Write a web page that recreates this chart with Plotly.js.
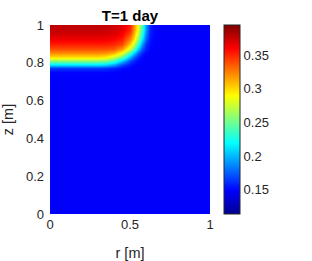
<!DOCTYPE html>
<html><head><meta charset="utf-8">
<script src="https://cdn.plot.ly/plotly-3.0.1.min.js"></script>
<style>html,body{margin:0;padding:0;background:#fff}#chart{width:312px;height:261px}</style>
</head><body><div id="chart"></div>
<script>
// radial positions r [m] (grid columns)
const rValues = [0, 0.3, 0.35, 0.4, 0.45, 0.5, 0.525, 0.55, 0.575, 0.6, 0.625, 0.65, 0.7, 1];
// vertical positions z [m] (grid rows)
const zValues = [0, 0.7, 0.75, 0.77, 0.79, 0.81, 0.83, 0.85, 0.875, 0.9, 0.925, 0.95, 0.975, 1];
// field values, one row per z value
const row_z000 = [.148,.148,.148,.148,.148,.148,.148,.148,.148,.148,.148,.148,.148,.148];
const row_z070 = [.148,.148,.148,.148,.148,.148,.148,.148,.148,.148,.148,.148,.148,.148];
const row_z075 = [.150,.150,.150,.149,.148,.148,.148,.148,.148,.148,.148,.148,.148,.148];
const row_z077 = [.165,.165,.163,.159,.152,.149,.148,.148,.148,.148,.148,.148,.148,.148];
const row_z079 = [.208,.208,.203,.190,.167,.154,.150,.148,.148,.148,.148,.148,.148,.148];
const row_z081 = [.255,.255,.250,.233,.203,.168,.158,.151,.149,.148,.148,.148,.148,.148];
const row_z083 = [.298,.298,.293,.276,.246,.199,.176,.159,.151,.149,.148,.148,.148,.148];
const row_z085 = [.320,.320,.318,.309,.284,.235,.204,.177,.158,.150,.149,.148,.148,.148];
const row_z0875 = [.338,.338,.337,.334,.317,.275,.243,.205,.174,.156,.150,.148,.148,.148];
const row_z090 = [.352,.352,.352,.349,.341,.304,.274,.235,.193,.162,.152,.149,.148,.148];
const row_z0925 = [.364,.364,.363,.360,.352,.324,.296,.258,.214,.175,.155,.149,.148,.148];
const row_z095 = [.372,.372,.371,.368,.361,.339,.309,.273,.228,.184,.157,.150,.148,.148];
const row_z0975 = [.376,.376,.375,.372,.366,.349,.317,.282,.237,.189,.158,.150,.148,.148];
const row_z100 = [.378,.378,.376,.374,.368,.352,.320,.285,.240,.190,.158,.150,.148,.148];

const xTickVals = [0, 0.5, 1];
const xTickText = ['0', '0.5', '1'];
const yTickVals = [0, 0.2, 0.4, 0.6, 0.8, 1];
const yTickText = ['0', '0.2', '0.4', '0.6', '0.8', '1'];
const cbTickVals = [0.15, 0.2, 0.25, 0.3, 0.35];
const cbTickText = ['0.15', '0.2', '0.25', '0.3', '0.35'];
const colorMin = 0.114, colorMax = 0.395;
const chartTitle = 'T=1 day';
const xLabel = 'r [m]';
const yLabel = 'z [m]';

const field = [row_z000,row_z070,row_z075,row_z077,row_z079,row_z081,row_z083,row_z085,
               row_z0875,row_z090,row_z0925,row_z095,row_z0975,row_z100];

const jet = [[0,'rgb(0,0,143)'],[0.125,'rgb(0,0,255)'],[0.375,'rgb(0,255,255)'],
             [0.625,'rgb(255,255,0)'],[0.875,'rgb(255,0,0)'],[1,'rgb(128,0,0)']];
const FONT = 'Liberation Sans, Arial, sans-serif';
const TXT = '#262626';

Plotly.newPlot('chart', [{
  type: 'heatmap', x: rValues, y: zValues, z: field,
  zsmooth: 'best', colorscale: jet, zmin: colorMin, zmax: colorMax,
  colorbar: {
    thickness: 16, thicknessmode: 'pixels', len: 1, lenmode: 'fraction',
    x: 1.0875, xanchor: 'left', xpad: 0, y: 0.5, yanchor: 'middle', ypad: 0,
    outlinecolor: TXT, outlinewidth: 1, ticks: '',
    tickvals: cbTickVals, ticktext: cbTickText,
    tickfont: {family: FONT, size: 13, color: TXT}
  }
}], {
  width: 312, height: 261,
  margin: {l: 50, r: 102, t: 25, b: 47, pad: 0},
  paper_bgcolor: '#fff', plot_bgcolor: '#fff',
  title: {text: '<b>' + chartTitle + '</b>', x: 0.5, xref: 'paper', xanchor: 'center',
          y: 0.94, yref: 'container', yanchor: 'middle',
          font: {family: FONT, size: 15, color: '#000'}},
  xaxis: {range: [0, 1], tickvals: xTickVals, ticktext: xTickText, ticks: '',
          showgrid: false, zeroline: false, showline: false, ticklabelstandoff: 1,
          tickfont: {family: FONT, size: 13, color: TXT},
          title: {text: xLabel, standoff: 18, font: {family: FONT, size: 14.5, color: TXT}}},
  yaxis: {range: [0, 1], tickvals: yTickVals, ticktext: yTickText, ticks: '',
          showgrid: false, zeroline: false, showline: false, ticklabelstandoff: 5,
          tickfont: {family: FONT, size: 13, color: TXT},
          title: {text: yLabel, standoff: 8, font: {family: FONT, size: 14.5, color: TXT}}}
}, {displayModeBar: false, staticPlot: true});
</script></body></html>
